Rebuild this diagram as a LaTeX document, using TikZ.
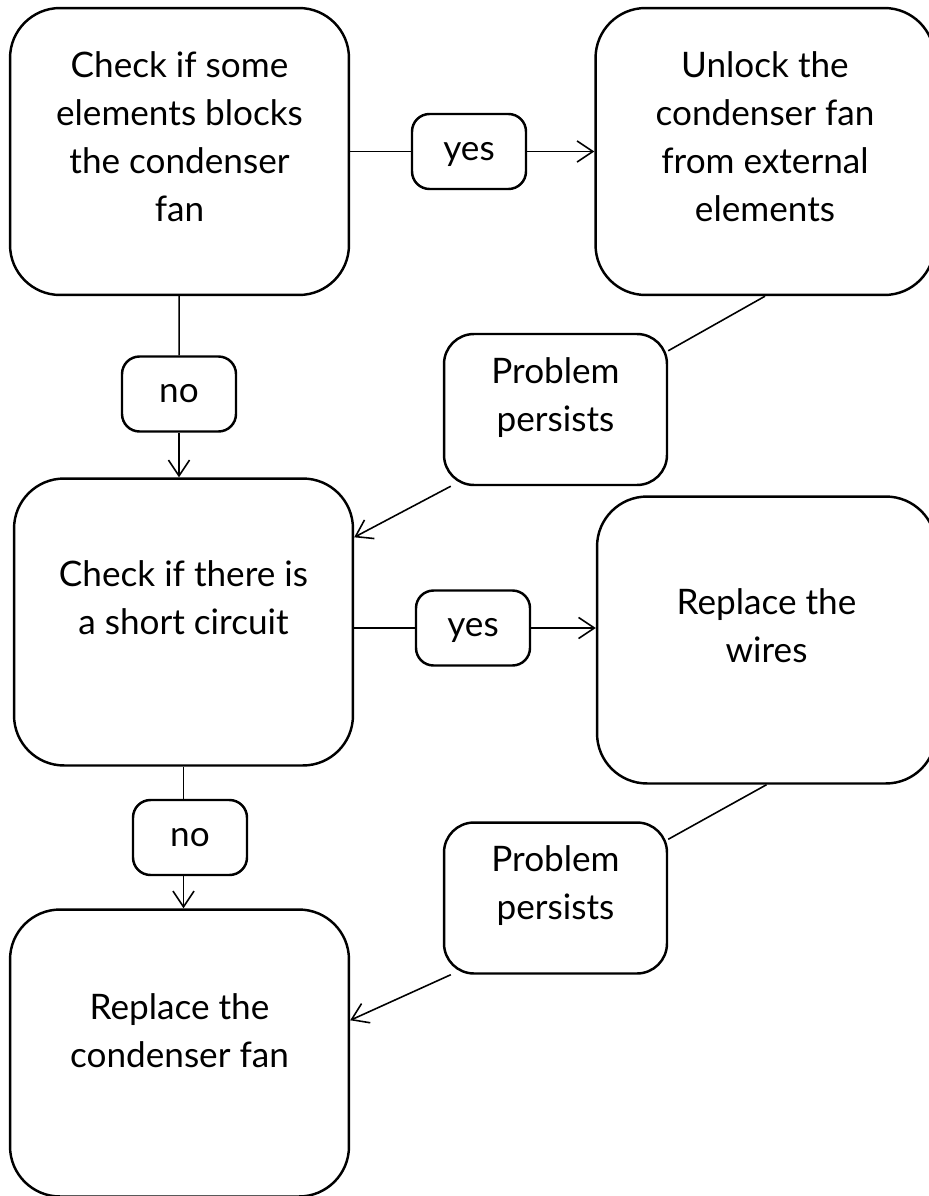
\documentclass[tikz,border=0pt]{standalone}
\usepackage{fontspec}
\setmainfont{Lato}
\usetikzlibrary{arrows.meta}
\newcommand{\flowfont}{\fontsize{20}{27.3}\selectfont}
\tikzset{
  bigbox/.style={draw=black, line width=1.4pt, rounded corners=1cm, minimum width=6.78cm, minimum height=5.74cm},
  pbox/.style={draw=black, line width=1.4pt, rounded corners=0.6cm, minimum width=4.46cm, minimum height=3.02cm},
  tagbox/.style={draw=black, line width=1.4pt, rounded corners=0.35cm, minimum width=2.28cm, minimum height=1.5cm, font=\flowfont, text height=10pt, text depth=0pt},
  boxtext/.style={align=center, font=\flowfont, inner sep=0pt},
  link/.style={line width=0.9pt},
}
\begin{document}
\begin{tikzpicture}[x=0.02cm, y=-0.02cm, >={Straight Barb[length=9pt,width=12pt]}]
\useasboundingbox (0,0) rectangle (929,1196);
% boxes
\node[bigbox] (check1) at (179.5,151.5) {};
\node[bigbox] (unlock) at (765,151.5) {};
\node[tagbox] (yes1) at (469,151.5) {yes};
\node[tagbox] (no1) at (179,394) {no};
\node[pbox] (pp1) at (555.5,409.5) {};
\node[bigbox] (short) at (183.5,622) {};
\node[tagbox] (yes2) at (473,628) {yes};
\node[bigbox] (wires) at (766.5,640) {};
\node[tagbox] (no2) at (190,837.5) {no};
\node[pbox] (pp2) at (555.5,898) {};
\node[bigbox] (repfan) at (179.5,1053) {};
% texts
\node[boxtext] (check1t) at ([yshift=0.29cm]check1.center) {Check if some\\elements blocks\\the condenser\\fan};
\node[boxtext] (unlockt) at ([yshift=0.29cm]unlock.center) {Unlock the\\condenser fan\\from external\\elements};
\node[boxtext] (pp1t) at ([yshift=0.24cm]pp1.center) {Problem\\persists};
\node[boxtext] (shortt) at ([yshift=0.48cm]short.center) {Check if there is\\a short circuit};
\node[boxtext] (wirest) at ([yshift=0.28cm]wires.center) {Replace the\\wires};
\node[boxtext] (pp2t) at ([yshift=0.24cm]pp2.center) {Problem\\persists};
\node[boxtext] (repfant) at ([yshift=0.44cm]repfan.center) {Replace the\\condenser fan};
% connectors
\draw[link] (check1) -- (yes1);
\draw[link, ->] (yes1) -- (unlock);
\draw[link] (check1) -- (no1);
\draw[link, ->] (no1) -- (no1 |- short.north);
\draw[link] (unlock.south) -- ([yshift=-0.36cm]pp1.north east);
\draw[link, ->] ([xshift=0.16cm]pp1.south west) -- ([yshift=-1.2cm]short.north east);
\draw[link] (short.east |- yes2) -- (yes2);
\draw[link, ->] (yes2) -- (wires.west |- yes2);
\draw[link] (short.south) -- (short.south |- no2.north);
\draw[link, ->] (short.south |- no2.south) -- (short.south |- repfan.north);
\draw[link] (wires.south) -- ([yshift=-0.36cm]pp2.north east);
\draw[link, ->] ([xshift=0.16cm]pp2.south west) -- ([yshift=-2.24cm]repfan.north east);
\end{tikzpicture}
\end{document}
